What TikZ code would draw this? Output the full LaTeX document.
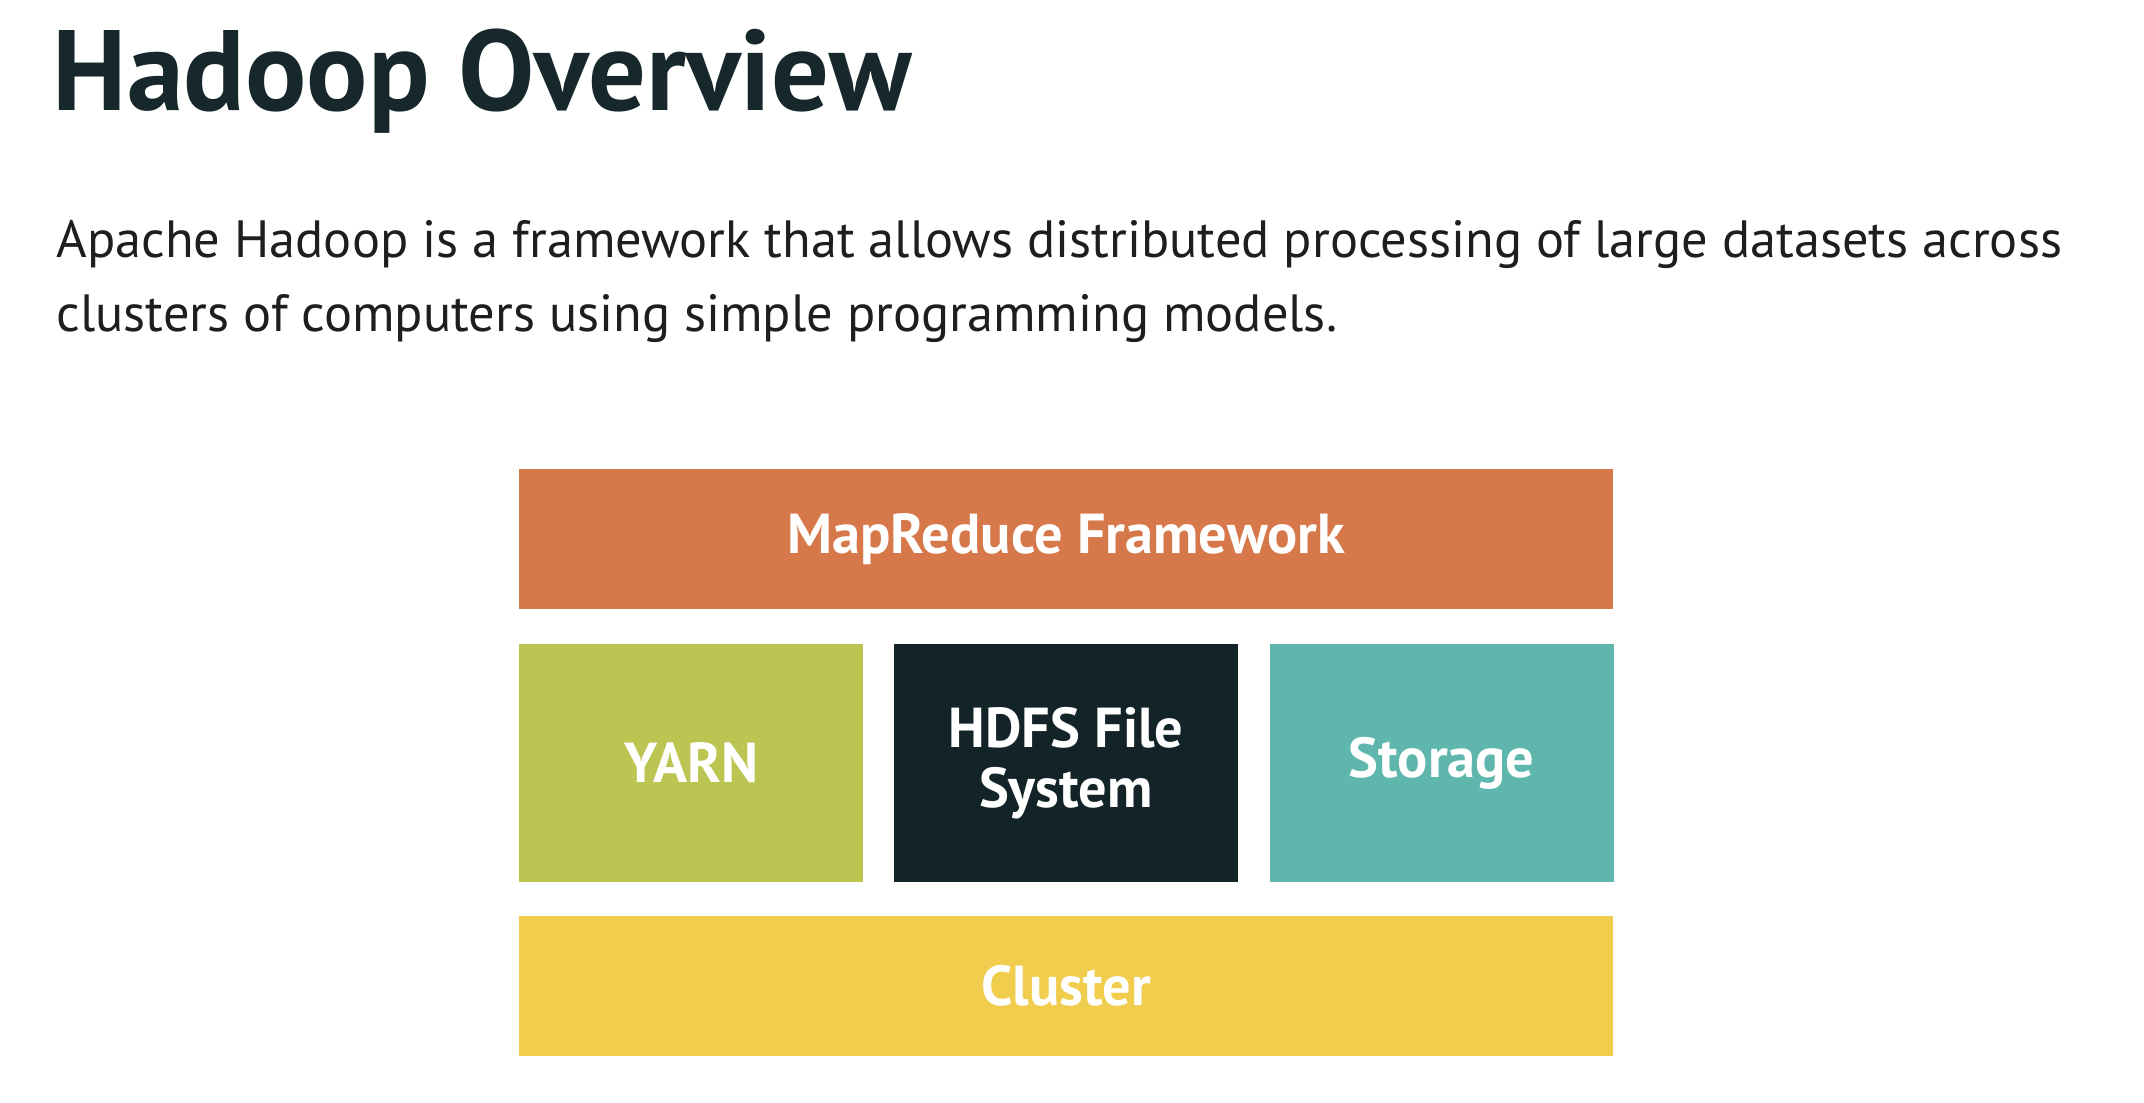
\documentclass[tikz,border=0pt]{standalone}
\usepackage{fontspec}
\setmainfont{PT Sans}
\usetikzlibrary{positioning}
\definecolor{titleink}{HTML}{16282C}
\definecolor{bodyink}{HTML}{1E1E1E}
\definecolor{mrorange}{HTML}{D6784A}
\definecolor{yarngreen}{HTML}{BCC452}
\definecolor{hdfsdark}{HTML}{122428}
\definecolor{storteal}{HTML}{5FB6AC}
\definecolor{clusteryellow}{HTML}{F0CD4C}
\tikzset{
  layer/.style={rectangle, inner sep=0pt, text=white, align=center,
    font=\bfseries\fontsize{16}{17}\selectfont},
  widelayer/.style={layer, minimum width=10.93cm, minimum height=1.40cm},
  partbox/.style={layer, minimum width=3.44cm, minimum height=2.37cm},
  bodyline/.style={anchor=base west, inner sep=0pt, text=bodyink,
    font=\fontsize{14.9}{17}\selectfont},
}
\begin{document}
\begin{tikzpicture}[x=0.01cm, y=-0.01cm]
	\useasboundingbox (0,0) rectangle (2144,1102);
	\fill[white] (0,0) rectangle (2144,1102);
	%
	\node[anchor=base west, inner sep=0pt, text=titleink,
	  font=\bfseries\fontsize{32.5}{38}\selectfont] (title) at (52,110) {Hadoop Overview};
	\node[bodyline] (intro1) at (56,257) {Apache Hadoop is a framework that allows distributed processing of large datasets across};
	\node[bodyline] (intro2) at (56,331) {clusters of computers using simple programming models.};
	%
	\node[widelayer, fill=mrorange] (mapreduce) at (1066,539) {MapReduce Framework};
	\node[partbox, fill=hdfsdark, below=0.34cm of mapreduce] (hdfs) {HDFS File\\System};
	\node[partbox, fill=yarngreen, left=0.29cm of hdfs] (yarn) {YARN};
	\node[partbox, fill=storteal, right=0.30cm of hdfs] (storage) {Storage};
	\node[widelayer, fill=clusteryellow, below=0.33cm of hdfs] (cluster) {Cluster};
\end{tikzpicture}
\end{document}
